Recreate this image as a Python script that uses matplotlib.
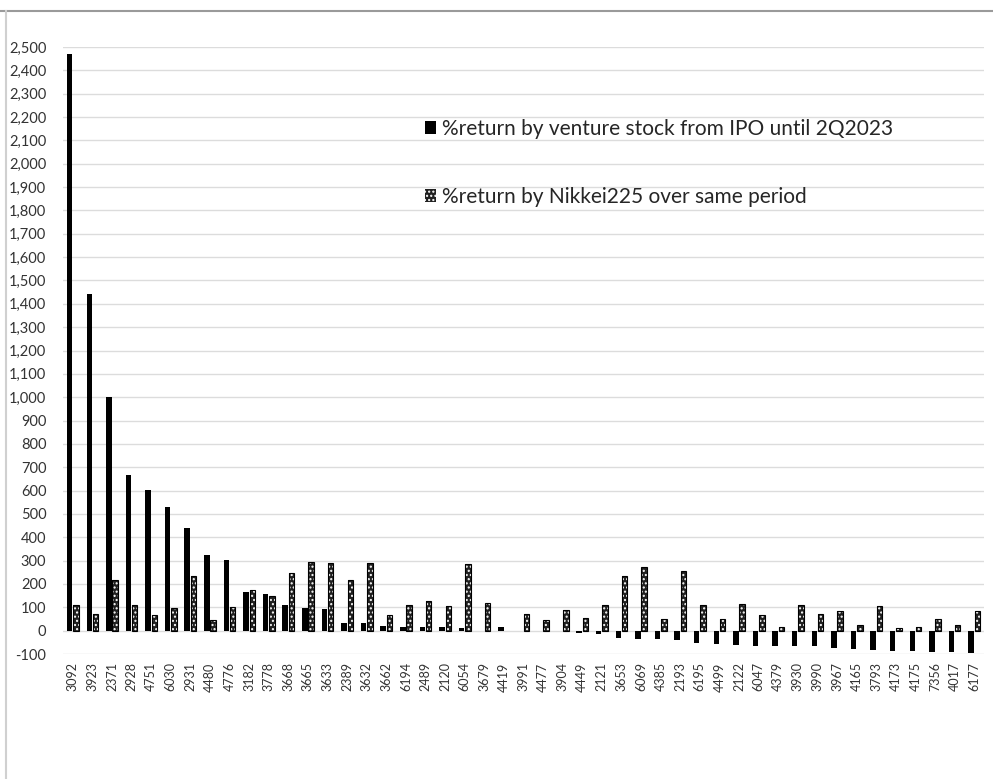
import numpy as np
import matplotlib.pyplot as plt
from matplotlib.lines import Line2D
from matplotlib.ticker import FuncFormatter, MultipleLocator

plt.rcParams['font.family'] = ['Lato', 'DejaVu Sans']
plt.rcParams['hatch.color'] = 'white'
plt.rcParams['hatch.linewidth'] = 1.0

codes = ['3092', '3923', '2371', '2928', '4751', '6030', '2931', '4480', '4776', '3182',
         '3778', '3668', '3665', '3633', '2389', '3632', '3662', '6194', '2489', '2120',
         '6054', '3679', '4419', '3991', '4477', '3904', '4449', '2121', '3653', '6069',
         '4385', '2193', '6195', '4499', '2122', '6047', '4379', '3930', '3990', '3967',
         '4165', '3793', '4173', '4175', '7356', '4017', '6177']

venture = [2470, 1440, 1002, 666, 603, 529, 440, 324, 301, 166,
           159, 109, 96, 92, 34, 31, 19, 17, 16, 16,
           10, 0, 17, 0, 0, -2, -8, -16, -31, -36,
           -37, -41, -53, -57, -60, -64, -67, -67, -67, -74,
           -79, -83, -86, -89, -91, -93, -97]

nikkei = [110, 73, 219, 111, 69, 96, 233, 44, 103, 173,
          149, 246, 296, 290, 219, 290, 66, 110, 129, 104,
          286, 119, 0, 71, 47, 90, 53, 110, 236, 273,
          51, 257, 110, 51, 113, 69, 14, 110, 73, 83,
          24, 104, 13, 17, 49, 23, 84]

label_v = '%return by venture stock from IPO until 2Q2023'
label_n = '%return by Nikkei225 over same period'

fig = plt.figure(figsize=(9.93, 7.79), dpi=100)
ax = fig.add_axes([63 / 993, 125 / 779, 921 / 993, 607 / 779])

x = np.arange(len(codes))
w = 0.28
nk = np.array(nikkei)
bv = ax.bar(x - 0.16, venture, w, color='black', zorder=3, label=label_v)
bn = ax.bar(x + 0.16, nikkei, w, color='#202020', hatch='....', linewidth=0, zorder=3, label=label_n)
ax.bar(x[nk != 0] + 0.16, nk[nk != 0], w, fill=False, edgecolor='black', linewidth=0.8, zorder=4)

ax.set_xlim(-0.5, len(codes) - 0.5)
ax.set_ylim(-100, 2500)
ax.yaxis.set_major_locator(MultipleLocator(100))
ax.yaxis.set_major_formatter(FuncFormatter(lambda v, p: f'{int(v):,}'))
ax.grid(axis='y', color='#dcdcdc', linewidth=1.0, zorder=0)
ax.set_axisbelow(True)
for s in ax.spines.values():
    s.set_visible(False)

ax.set_xticks(x)
ax.set_xticklabels(codes, rotation=90, fontsize=9, color='#333333')
ax.tick_params(axis='x', length=0, pad=6)
ax.tick_params(axis='y', length=0, pad=12, labelsize=10.5, labelcolor='#333333')

ax.legend(handles=[bv, bn], loc='upper left', bbox_to_anchor=(406 / 993, 1 - 100 / 779),
          bbox_transform=fig.transFigure, frameon=False, fontsize=15,
          handlelength=0.55, handleheight=0.55, handletextpad=0.3, labelspacing=2.3,
          labelcolor='#262626')

# chart frame (top and left edges)
fig.add_artist(Line2D([0, 1], [1 - 11 / 779, 1 - 11 / 779], color='#9a9a9a', linewidth=1.5,
                      transform=fig.transFigure))
fig.add_artist(Line2D([6 / 993, 6 / 993], [0, 1 - 11 / 779], color='#d0d0d0', linewidth=1.5,
                      transform=fig.transFigure))

fig.savefig('out.png', dpi=100)
